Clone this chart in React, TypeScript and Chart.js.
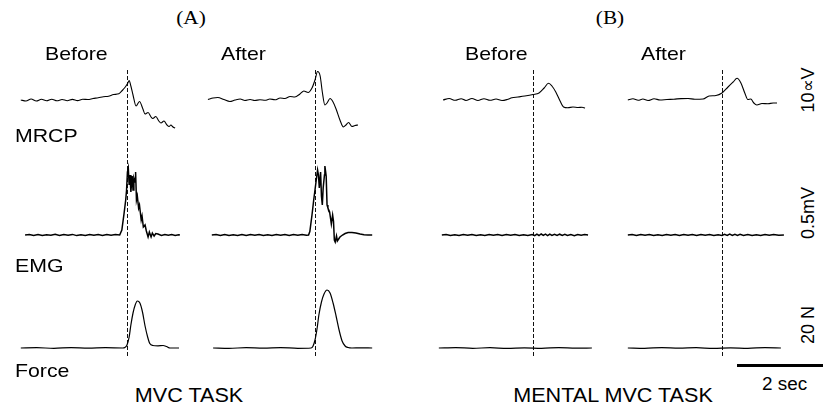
import React, { useEffect, useRef } from "react";
import { Chart, registerables } from "chart.js";
Chart.register(...registerables);

type Pt = [number, number];

// ---------- DATA (time in s relative to movement onset; MRCP in µV, EMG in mV, Force in N) ----------
const A_BEFORE_MRCP: Pt[] = [
  [-2.47, 0], [-2.35, -0.5], [-2.23, 0.5], [-2.11, -0.5], [-1.99, 0.35], [-1.87, -0.4], [-1.75, 0.4],
  [-1.63, -0.4], [-1.51, 0.25], [-1.39, -0.35], [-1.27, 0.3], [-1.15, -0.3], [-1.03, 0.35], [-0.91, 0.25],
  [-0.79, 0.75], [-0.67, 1.1], [-0.55, 1.6], [-0.43, 1.9], [-0.31, 2.75], [-0.19, 3.1], [-0.1, 5],
  [-0.04, 6.5], [0.02, 8.5], [0.05, 9.75], [0.09, 7], [0.14, 2.5], [0.21, -3], [0.29, -0.75],
  [0.37, -4.5], [0.42, -7], [0.49, -6.25], [0.56, -8.5], [0.6, -9.25], [0.67, -8.25], [0.74, -10.5],
  [0.79, -11.5], [0.86, -10.5], [0.93, -12.5], [0.98, -13.25], [1.02, -12.5], [1.07, -13.5], [1.12, -14],
];
const A_AFTER_MRCP: Pt[] = [
  [-2.49, 0.25], [-2.37, 1], [-2.26, 1.25], [-2.12, 0.25], [-1.98, -0.75], [-1.86, 0], [-1.74, 0.5],
  [-1.63, -0.25], [-1.51, 0.25], [-1.4, -0.25], [-1.28, 0.1], [-1.16, -0.15], [-1.05, 0.5], [-0.93, 0.1],
  [-0.81, 1], [-0.7, 0.75], [-0.58, 1.75], [-0.47, 1.5], [-0.35, 3], [-0.26, 4.5], [-0.16, 3.75],
  [-0.07, 6], [0, 10], [0.06, 14.25], [0.12, 12], [0.17, 4], [0.23, -2.5], [0.28, -1.5], [0.35, 0.75],
  [0.42, -1], [0.49, -4.5], [0.58, -10], [0.66, -13.5], [0.72, -12.5], [0.78, -11.25], [0.86, -13.25],
  [0.93, -12.75], [1.0, -12.5],
];
const B_BEFORE_MRCP: Pt[] = [
  [-2.09, 0], [-1.95, 0.75], [-1.81, -0.15], [-1.67, 0.65], [-1.56, -0.25], [-1.42, 0.75], [-1.28, -0.25],
  [-1.14, 0.65], [-1.0, -0.15], [-0.86, 0.5], [-0.72, -0.25], [-0.6, 0.25], [-0.49, 1.1], [-0.35, 1.5],
  [-0.19, 2], [0, 2.75], [0.14, 3.5], [0.26, 6], [0.36, 8.35], [0.44, 7], [0.53, 4], [0.63, -0.5],
  [0.71, -3.5], [0.81, -3.9], [0.93, -3.5], [1.05, -3.75], [1.14, -3.6], [1.21, -4],
];
const B_AFTER_MRCP: Pt[] = [
  [-2.19, 0], [-2.07, 0.6], [-1.95, -0.15], [-1.84, 0.5], [-1.72, -0.25], [-1.58, 0.6], [-1.44, 0],
  [-1.28, 0.25], [-1.12, 0.4], [-0.95, 0.7], [-0.79, 0.75], [-0.63, 0.35], [-0.44, 0.5], [-0.3, 2],
  [-0.14, 2.25], [0, 3.5], [0.14, 6.5], [0.26, 9], [0.35, 10.85], [0.44, 8.5], [0.53, 3.5], [0.6, 0.25],
  [0.67, 0.5], [0.74, -1.5], [0.81, -2.5], [0.93, -1.75], [1.07, -1.9], [1.19, -1.5], [1.28, -1.5],
];

const A_BEFORE_EMG: Pt[] = [
  [-2.37, 0], [-2.27, 0.006], [-2.17, -0.004], [-2.07, 0.005], [-1.97, -0.006], [-1.87, 0.003],
  [-1.77, -0.003], [-1.67, 0.007], [-1.57, -0.005], [-1.47, 0.004], [-1.37, -0.002], [-1.27, 0.006],
  [-1.17, -0.006], [-1.07, 0.003], [-0.97, -0.004], [-0.87, 0.005], [-0.77, -0.003], [-0.67, 0.004],
  [-0.57, -0.005], [-0.47, 0.006], [-0.37, -0.002], [-0.27, 0.004], [-0.17, 0], [-0.12, 0.05],
  [-0.07, 0.21], [-0.03, 0.35], [-0.01, 0.45], [0.01, 0.63], [0.03, 0.67], [0.05, 0.5], [0.07, 0.6],
  [0.09, 0.43], [0.12, 0.59], [0.14, 0.45], [0.16, 0.57], [0.19, 0.53], [0.2, 0.63], [0.22, 0.35],
  [0.24, 0.39], [0.27, 0.27], [0.29, 0.3], [0.33, 0.15], [0.35, 0.19], [0.38, 0.08], [0.42, 0.1],
  [0.45, 0.04], [0.49, -0.02], [0.52, 0.03], [0.56, -0.02], [0.59, 0.02], [0.63, -0.01], [0.67, 0.015],
  [0.72, 0.01], [0.8, -0.004], [0.88, 0.005], [0.96, -0.003], [1.04, 0.004], [1.12, -0.005],
  [1.2, 0.003], [1.23, 0],
];
const A_AFTER_EMG: Pt[] = [
  [-2.4, 0], [-2.3, 0.005], [-2.2, -0.004], [-2.1, 0.006], [-2.0, -0.005], [-1.9, 0.003], [-1.8, -0.004],
  [-1.7, 0.005], [-1.6, -0.006], [-1.5, 0.004], [-1.4, -0.003], [-1.3, 0.006], [-1.2, -0.004],
  [-1.1, 0.003], [-1.0, -0.005], [-0.9, 0.004], [-0.8, -0.003], [-0.7, 0.005], [-0.6, -0.004],
  [-0.5, 0.006], [-0.4, -0.002], [-0.3, 0.004], [-0.2, -0.003], [-0.15, 0], [-0.12, 0.035],
  [-0.07, 0.2], [-0.03, 0.35], [0, 0.45], [0.035, 0.57], [0.06, 0.65], [0.08, 0.6], [0.1, 0.47],
  [0.13, 0.63], [0.15, 0.39], [0.17, 0.3], [0.19, 0.47], [0.22, 0.6], [0.23, 0.69], [0.26, 0.59],
  [0.28, 0.3], [0.3, 0.27], [0.34, 0.23], [0.36, 0.17], [0.38, 0.11], [0.41, 0.2], [0.43, 0.14],
  [0.45, -0.05], [0.47, -0.07], [0.5, -0.01], [0.52, -0.06], [0.55, -0.04], [0.58, -0.02], [0.64, 0],
  [0.7, 0.015], [0.77, 0.025], [0.86, 0.025], [0.95, 0.02], [1.05, 0.01], [1.14, 0.002], [1.23, 0],
  [1.33, 0],
];
const B_BEFORE_EMG: Pt[] = [
  [-2.12, 0], [-2.02, 0.005], [-1.92, -0.004], [-1.82, 0.003], [-1.72, -0.006], [-1.62, 0.004],
  [-1.52, -0.003], [-1.42, 0.006], [-1.32, -0.004], [-1.22, 0.002], [-1.12, -0.005], [-1.02, 0.004],
  [-0.92, -0.003], [-0.82, 0.005], [-0.72, -0.004], [-0.62, 0.006], [-0.52, -0.002], [-0.42, 0.004],
  [-0.32, -0.005], [-0.22, 0.003], [-0.12, -0.004], [-0.02, 0.005], [0.04, -0.006], [0.09, 0.009],
  [0.14, -0.005], [0.19, 0.01], [0.24, -0.004], [0.29, 0.008], [0.34, -0.006], [0.39, 0.009],
  [0.44, -0.004], [0.5, 0.007], [0.56, -0.005], [0.62, 0.008], [0.68, -0.004], [0.74, 0.006],
  [0.8, -0.005], [0.88, 0.004], [0.96, -0.006], [1.04, 0.005], [1.12, -0.003], [1.2, 0.004], [1.28, 0],
];
const B_AFTER_EMG: Pt[] = [
  [-2.19, 0], [-2.09, 0.004], [-1.99, -0.005], [-1.89, 0.006], [-1.79, -0.003], [-1.69, 0.004],
  [-1.59, -0.006], [-1.49, 0.003], [-1.39, -0.004], [-1.29, 0.005], [-1.19, -0.002], [-1.09, 0.004],
  [-0.99, -0.005], [-0.89, 0.006], [-0.79, -0.003], [-0.69, 0.004], [-0.59, -0.006], [-0.49, 0.005],
  [-0.39, -0.003], [-0.29, 0.004], [-0.19, -0.005], [-0.09, 0.003], [0, -0.004], [0.06, 0.006],
  [0.12, -0.005], [0.18, 0.008], [0.24, -0.005], [0.3, 0.007], [0.36, -0.004], [0.42, 0.006],
  [0.5, -0.005], [0.6, 0.004], [0.7, -0.005], [0.8, 0.003], [0.9, -0.004], [1.0, 0.005],
  [1.1, -0.003], [1.2, 0.004], [1.32, -0.003], [1.44, 0],
];

const A_BEFORE_FORCE: Pt[] = [
  [-2.47, 0], [-2.1, 0.15], [-1.7, -0.15], [-1.3, 0.2], [-0.9, -0.1], [-0.5, 0.15], [-0.1, 0],
  [-0.05, 0.25], [0, 1.5], [0.05, 5.5], [0.09, 11.5], [0.14, 17.5], [0.19, 21.5], [0.24, 23.5],
  [0.3, 22.5], [0.36, 18], [0.42, 11], [0.48, 5.5], [0.53, 2.25], [0.6, 1.25], [0.72, 1.1],
  [0.84, 1.25], [0.92, 0.75], [1.0, 0], [1.12, 0], [1.21, 0],
];
const A_AFTER_FORCE: Pt[] = [
  [-2.37, 0], [-2.0, -0.15], [-1.6, 0.15], [-1.2, -0.1], [-0.8, 0.2], [-0.4, -0.15], [-0.09, 0],
  [-0.05, 0.75], [0, 4], [0.05, 10], [0.09, 16.5], [0.15, 23], [0.21, 27], [0.28, 29], [0.35, 27.5],
  [0.42, 22.5], [0.49, 16], [0.56, 9], [0.63, 3.5], [0.7, 1], [0.77, 0.25], [0.86, 0], [1.05, 0.1],
  [1.33, 0],
];
const B_BEFORE_FORCE: Pt[] = [
  [-2.19, 0], [-1.8, 0.2], [-1.4, -0.15], [-1.0, 0.15], [-0.6, -0.2], [-0.2, 0.1], [0.2, -0.15],
  [0.6, 0.2], [1.0, -0.1], [1.37, 0],
];
const B_AFTER_FORCE: Pt[] = [
  [-2.19, 0], [-1.8, -0.15], [-1.4, 0.2], [-1.0, -0.1], [-0.6, 0.15], [-0.2, -0.2], [0.2, 0.1],
  [0.6, -0.15], [1.0, 0.2], [1.37, 0],
];

const SCALE_BAR_SEC = 2;

// ---------- LAYOUT ----------
const PX_PER_SEC = 43;
const PRE_PX = 110;
const POST_PX = 70;
const PANEL_TOP = 60;
const PANEL_H = 310;
const DASH_TOP = 70;
const DASH_BOTTOM = 357;
const CHANNEL_BASE: Record<string, number> = { mrcp: 40, emg: 175, force: 288 };
const CHANNEL_PPU: Record<string, number> = { mrcp: 2, emg: 100, force: 2 };

const PANELS = [
  { onsetX: 127, mrcp: A_BEFORE_MRCP, emg: A_BEFORE_EMG, force: A_BEFORE_FORCE },
  { onsetX: 315, mrcp: A_AFTER_MRCP, emg: A_AFTER_EMG, force: A_AFTER_FORCE },
  { onsetX: 533, mrcp: B_BEFORE_MRCP, emg: B_BEFORE_EMG, force: B_BEFORE_FORCE },
  { onsetX: 722, mrcp: B_AFTER_MRCP, emg: B_AFTER_EMG, force: B_AFTER_FORCE },
];

const SANS = '"Liberation Sans", Arial, sans-serif';
const SERIF = '"Liberation Serif", "Times New Roman", serif';

function Panel({ onsetX, mrcp, emg, force }: { onsetX: number; mrcp: Pt[]; emg: Pt[]; force: Pt[] }) {
  const ref = useRef<HTMLCanvasElement>(null);
  useEffect(() => {
    const toXY = (a: Pt[]) => a.map(([x, y]) => ({ x, y }));
    const line = (data: Pt[], axis: string, smooth: boolean, width: number) => ({
      data: toXY(data),
      yAxisID: axis,
      borderColor: "#000",
      borderWidth: width,
      pointRadius: 0,
      fill: false,
      tension: 0,
      cubicInterpolationMode: smooth ? "monotone" : "default",
      clip: false,
    });
    const range = (k: string) => ({
      type: "linear",
      axis: "y",
      position: "left",
      display: false,
      min: -(PANEL_H - CHANNEL_BASE[k]) / CHANNEL_PPU[k],
      max: CHANNEL_BASE[k] / CHANNEL_PPU[k],
    });
    const onsetLine = {
      id: "onsetLine",
      beforeDatasetsDraw(chart: any) {
        const ctx = chart.ctx;
        const x = Math.round(chart.scales.x.getPixelForValue(0)) + 0.5;
        ctx.save();
        ctx.setLineDash([4, 2]);
        ctx.strokeStyle = "#111";
        ctx.lineWidth = 1;
        ctx.beginPath();
        ctx.moveTo(x, DASH_TOP - PANEL_TOP);
        ctx.lineTo(x, DASH_BOTTOM - PANEL_TOP);
        ctx.stroke();
        ctx.restore();
      },
    };
    const chart = new Chart(ref.current as HTMLCanvasElement, {
      type: "line",
      data: {
        datasets: [
          line(mrcp, "mrcp", true, 1.1),
          line(emg, "emg", false, 1.5),
          line(force, "force", true, 1.2),
        ] as any,
      },
      options: {
        responsive: false,
        animation: false,
        events: [],
        layout: { padding: 0 },
        plugins: { legend: { display: false }, tooltip: { enabled: false }, title: { display: false } },
        scales: {
          x: { type: "linear", display: false, min: -PRE_PX / PX_PER_SEC, max: POST_PX / PX_PER_SEC },
          mrcp: range("mrcp"),
          emg: range("emg"),
          force: range("force"),
        } as any,
      },
      plugins: [onsetLine],
    });
    return () => chart.destroy();
  }, []);
  return (
    <canvas
      ref={ref}
      width={PRE_PX + POST_PX}
      height={PANEL_H}
      style={{ position: "absolute", left: onsetX - PRE_PX, top: PANEL_TOP, width: PRE_PX + POST_PX, height: PANEL_H }}
    />
  );
}

function Label({
  text, x, y, size = 19, align = "left", family = SANS, sx = 1.12,
}: { text: string; x: number; y: number; size?: number; align?: "left" | "center"; family?: string; sx?: number }) {
  const asc = family === SERIF ? 0.8375 : 0.8465;
  return (
    <div
      style={{
        position: "absolute",
        left: x,
        top: y - size * asc,
        fontFamily: family,
        fontSize: size,
        lineHeight: `${size}px`,
        whiteSpace: "nowrap",
        color: "#000",
        transformOrigin: align === "center" ? "center" : "left top",
        transform: align === "center" ? `translateX(-50%) scaleX(${sx})` : `scaleX(${sx})`,
      }}
    >
      {text}
    </div>
  );
}

function VLabel({ text, x, y, size = 18 }: { text: string; x: number; y: number; size?: number }) {
  return (
    <div
      style={{
        position: "absolute",
        left: x,
        top: y,
        fontFamily: SANS,
        fontSize: size,
        lineHeight: `${size}px`,
        whiteSpace: "nowrap",
        transformOrigin: "center",
        transform: "translate(-50%, -50%) rotate(-90deg)",
      }}
    >
      {text}
    </div>
  );
}

export default function App() {
  return (
    <div style={{ position: "absolute", left: 0, top: 0, width: 823, height: 408, overflow: "hidden", background: "#fff" }}>
      {PANELS.map((p, i) => (
        <Panel key={i} {...p} />
      ))}
      <Label text="(A)" x={191} y={24} size={18} align="center" family={SERIF} sx={1.18} />
      <Label text="(B)" x={610} y={24} size={18} align="center" family={SERIF} sx={1.18} />
      <Label text="Before" x={45} y={60} />
      <Label text="After" x={221} y={60} />
      <Label text="Before" x={465} y={60} />
      <Label text="After" x={641} y={60} />
      <Label text="MRCP" x={15} y={142} />
      <Label text="EMG" x={15} y={272} />
      <Label text="Force" x={15} y={377} />
      <Label text="MVC TASK" x={189} y={402} align="center" size={20} sx={1.08} />
      <Label text="MENTAL MVC TASK" x={613} y={402} align="center" size={20} sx={1.08} />
      <Label text="2 sec" x={762} y={390} size={18} sx={1.05} />
      <VLabel text="10∝V" x={808} y={90} />
      <VLabel text="0.5mV" x={808} y={213} />
      <VLabel text="20 N" x={808} y={325} />
      <div
        style={{
          position: "absolute",
          left: 737,
          top: 364,
          width: SCALE_BAR_SEC * PX_PER_SEC,
          height: 3,
          background: "#000",
        }}
      />
    </div>
  );
}
